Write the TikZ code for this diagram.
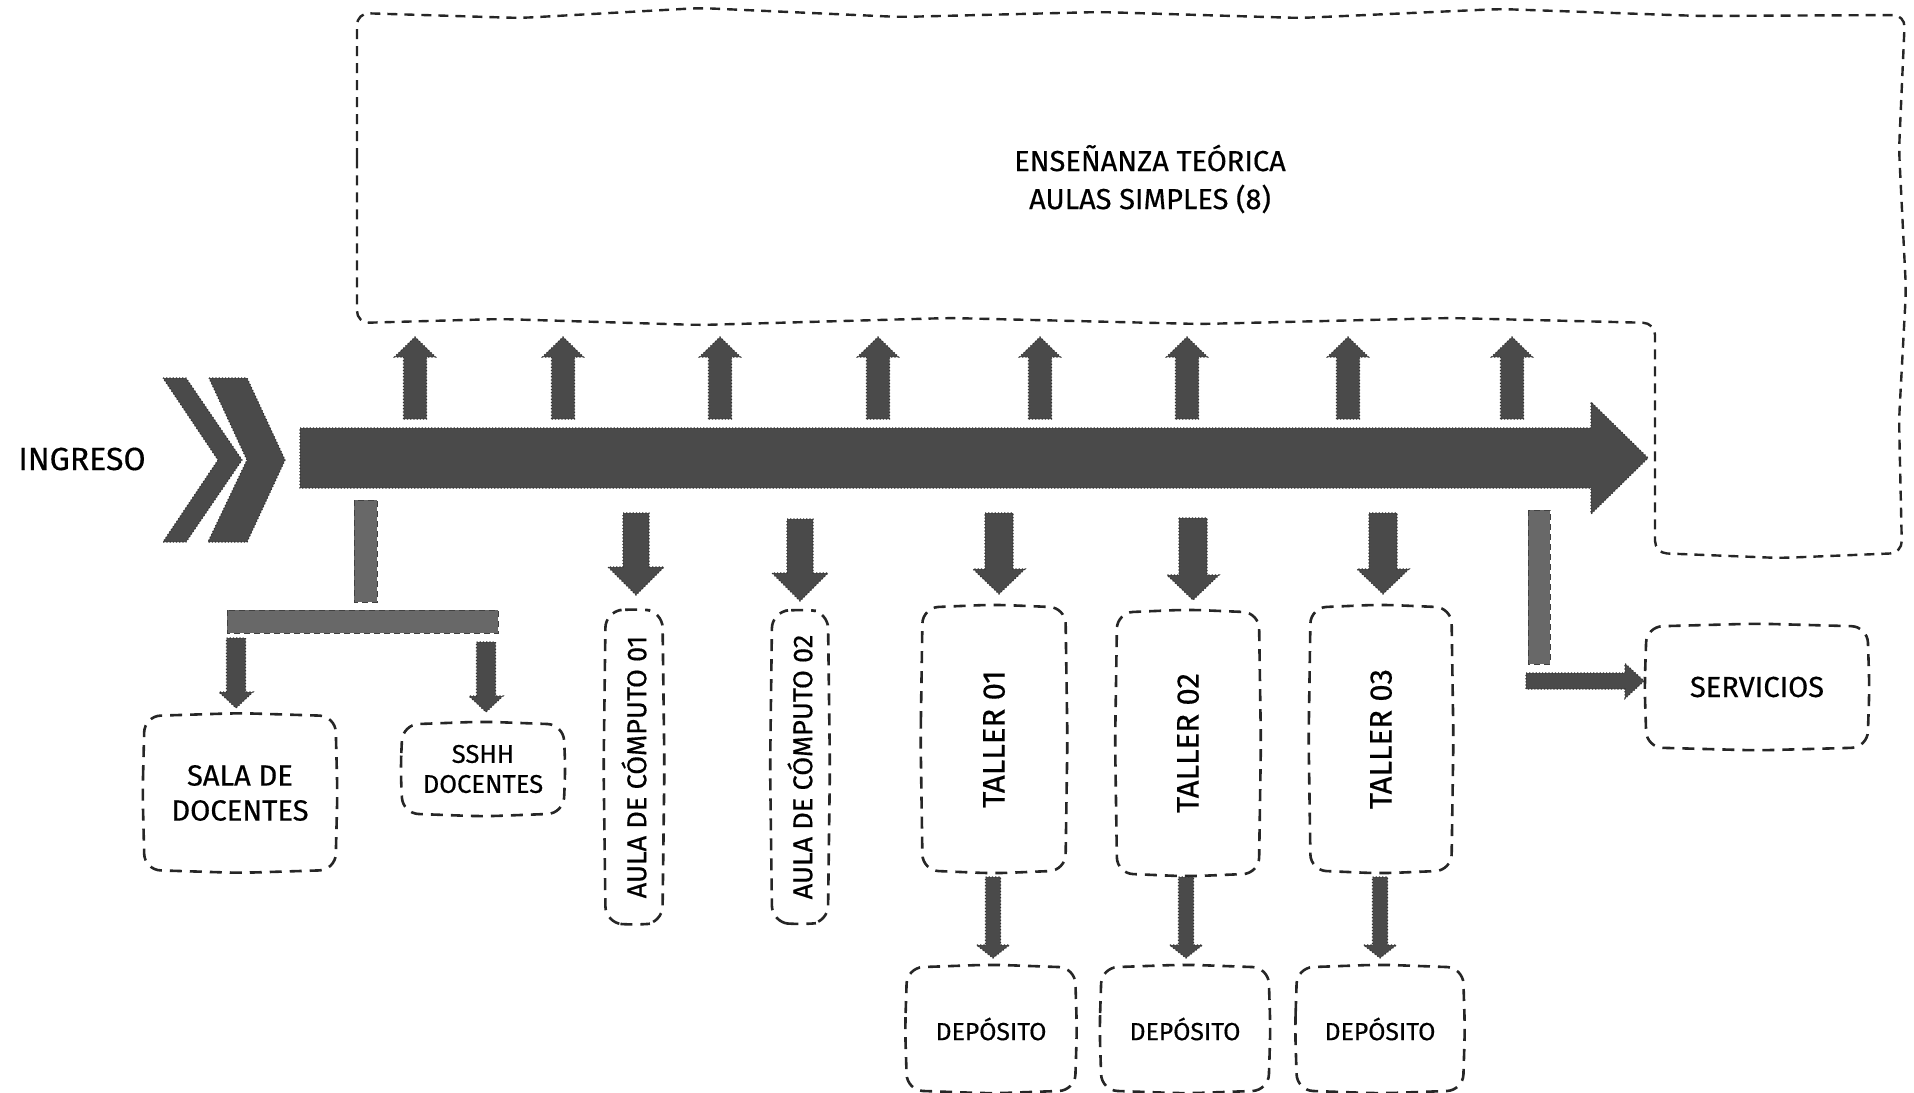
\documentclass[tikz,border=0pt]{standalone}
\usepackage{fontspec}
\setmainfont{Fira Sans}[FakeBold=0.45]
\usetikzlibrary{calc}

\definecolor{arrowgray}{HTML}{4A4A4A}
\definecolor{stemgray}{HTML}{686868}

% block arrows: centre, start, tip, shaft half-width, head half-width, head length
\newcommand{\uparrowblk}[6]{%
  \path[blk] (#1-#4,#2) -- (#1-#4,#3+#6) -- (#1-#5,#3+#6) -- (#1,#3)
    -- (#1+#5,#3+#6) -- (#1+#4,#3+#6) -- (#1+#4,#2) -- cycle;}
\newcommand{\downarrowblk}[6]{%
  \path[blk] (#1-#4,#2) -- (#1+#4,#2) -- (#1+#4,#3-#6) -- (#1+#5,#3-#6)
    -- (#1,#3) -- (#1-#5,#3-#6) -- (#1-#4,#3-#6) -- cycle;}
\newcommand{\rightarrowblk}[6]{%
  \path[blk] (#2,#1-#4) -- (#3-#6,#1-#4) -- (#3-#6,#1-#5) -- (#3,#1)
    -- (#3-#6,#1+#5) -- (#3-#6,#1+#4) -- (#2,#1+#4) -- cycle;}
% hand-drawn style frame round a node
\newcommand{\sketchbox}[1]{%
  \draw[sketch] ($(#1.west)+(-2,0)$) -- (#1.north west) -- ($(#1.north)+(0,-3)$)
    -- (#1.north east) -- ($(#1.east)+(2,0)$) -- (#1.south east)
    -- ($(#1.south)+(0,3)$) -- (#1.south west) -- cycle;}

\begin{document}
\begin{tikzpicture}[x=0.5pt,y=-0.5pt,
  blk/.style={fill=arrowgray, draw=black!80, densely dotted, line width=0.6pt},
  stem/.style={fill=stemgray, draw=black!75, densely dashed, line width=0.5pt},
  sketch/.style={draw=black!85, line width=1.3pt, dash pattern=on 6pt off 4pt,
    rounded corners=8pt},
  box/.style={inner sep=0pt, align=center},
  lbl/.style={inner sep=0pt, align=center}]
\useasboundingbox (0,0) rectangle (1914,1092);

% upper zone of theory classrooms
\draw[sketch, line width=1.2pt, dash pattern=on 5pt off 3.5pt, rounded corners=6pt]
  (357,170) -- (357,13) -- (520,18) -- (700,8) -- (900,17) -- (1100,12) -- (1300,18)
  -- (1500,9) -- (1700,16) -- (1905,15) -- (1899,150) -- (1906,290) -- (1899,420)
  -- (1902,553) -- (1780,558) -- (1655,553)
  -- (1655,323) -- (1450,318) -- (1200,324) -- (950,318) -- (700,325) -- (500,319)
  -- (357,323) -- cycle;
\node[lbl, font=\fontsize{14.5}{19}\selectfont] (teoria) at (1150,179)
  {ENSEÑANZA TEÓRICA\\AULAS SIMPLES (8)};

% entrance
\node[lbl, font=\fontsize{16}{19}\selectfont] (ingreso) at (82,459) {INGRESO};
\path[blk] (163,378) -- (186,378) -- (242,460) -- (186,542) -- (163,542) -- (218,460) -- cycle;
\path[blk] (209,378) -- (247,378) -- (285,460) -- (247,542) -- (208,542) -- (247,460) -- cycle;

% main circulation axis
\rightarrowblk{458}{300}{1648}{30}{56}{57}

% access to the eight classrooms
\foreach \x in {415,563,720,878,1040,1187,1348,1512}
  {\uparrowblk{\x}{419}{337}{11.5}{20.5}{20}}

% rooms
\node[box, minimum width=95pt, minimum height=76.5pt, font=\fontsize{14.6}{17.5}\selectfont]
  (sala) at (240,793) {SALA DE\\DOCENTES};
\node[box, minimum width=80pt, minimum height=44pt, font=\fontsize{12.8}{15}\selectfont]
  (sshh) at (483,769) {SSHH\\DOCENTES};
\node[box, minimum width=28pt, minimum height=155pt, font=\fontsize{13.6}{16}\selectfont]
  (aula1) at (634,767) {\rotatebox{90}{AULA DE CÓMPUTO 01}};
\node[box, minimum width=27.5pt, minimum height=154.5pt, font=\fontsize{13.6}{16}\selectfont]
  (aula2) at (800,767) {\rotatebox{90}{AULA DE CÓMPUTO 02}};
\node[box, minimum width=71pt, minimum height=131pt, font=\fontsize{15.6}{19}\selectfont]
  (taller1) at (994,739) {\rotatebox{90}{TALLER 01}};
\node[box, minimum width=70.5pt, minimum height=130pt, font=\fontsize{15.6}{19}\selectfont]
  (taller2) at (1188,743) {\rotatebox{90}{TALLER 02}};
\node[box, minimum width=70pt, minimum height=131pt, font=\fontsize{15.6}{19}\selectfont]
  (taller3) at (1381,739) {\rotatebox{90}{TALLER 03}};
\node[box, minimum width=83.5pt, minimum height=61pt, font=\fontsize{12.4}{15}\selectfont]
  (dep1) at (991,1029) {DEPÓSITO};
\node[box, minimum width=83pt, minimum height=61pt, font=\fontsize{12.4}{15}\selectfont]
  (dep2) at (1185,1029) {DEPÓSITO};
\node[box, minimum width=82.5pt, minimum height=61pt, font=\fontsize{12.4}{15}\selectfont]
  (dep3) at (1380,1029) {DEPÓSITO};
\node[box, minimum width=110pt, minimum height=60pt, font=\fontsize{14.5}{18}\selectfont]
  (servicios) at (1757,687) {SERVICIOS};

\foreach \n in {sala,sshh,aula1,aula2,taller1,taller2,taller3,dep1,dep2,dep3,servicios}
  {\sketchbox{\n}}

% teachers' branch
\path[stem] (354,500) rectangle (377,602);
\path[stem] (227,610) rectangle (498,633);
\downarrowblk{236}{638}{708}{9.5}{17}{16}
\downarrowblk{486}{642}{712}{9.5}{17}{16}

% computer rooms
\downarrowblk{636}{513}{595}{13}{28}{28}
\downarrowblk{800}{519}{601}{13}{28}{28}

% workshops and their stores
\downarrowblk{999}{513}{594}{14}{26}{25}
\downarrowblk{1193}{518}{600}{14}{26}{25}
\downarrowblk{1383}{513}{594}{14}{26}{25}
\downarrowblk{993}{877}{958}{7.5}{16.5}{13}
\downarrowblk{1186}{877}{958}{7.5}{16.5}{13}
\downarrowblk{1380}{877}{958}{7.5}{16.5}{13}

% services branch
\path[stem] (1528,510) rectangle (1550,664);
\rightarrowblk{681}{1526}{1644}{8}{17.5}{19}
\end{tikzpicture}
\end{document}
